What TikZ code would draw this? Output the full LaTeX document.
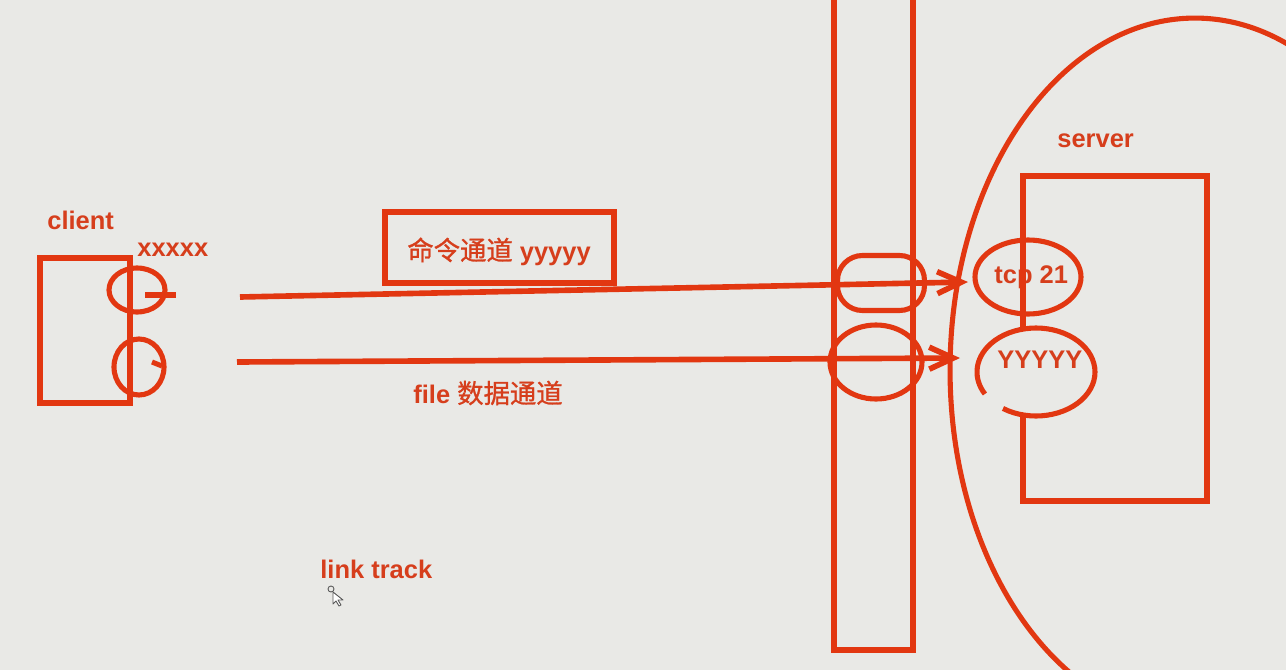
\documentclass[tikz,border=0pt]{standalone}
\usepackage{fontspec}
\setmainfont{Liberation Sans}
\newfontfamily\cjk[FakeBold=1]{Noto Sans CJK SC}
\usetikzlibrary{arrows.meta,shapes.geometric}
\definecolor{bg}{RGB}{233,233,230}
\definecolor{ink}{RGB}{226,55,17}
\definecolor{txt}{RGB}{214,62,28}
\def\pxl{0.02cm}
\begin{document}
\begin{tikzpicture}[x=0.02cm,y=-0.02cm,
  ln/.style={draw=ink,line width=2.9pt},
  box/.style={draw=ink,line width=2.9pt,rectangle,inner sep=0pt},
  oval/.style={draw=ink,line width=2.9pt,ellipse,inner sep=0pt},
  lbl/.style={text=txt,font=\fontsize{14.5}{17}\selectfont\bfseries,inner sep=0pt,anchor=base west},
  arr/.style={draw=ink,line width=3.2pt,-{Straight Barb[length=0.48cm,width=0.44cm]}}]
\path[fill=bg] (0,0) rectangle (1286,670);
\useasboundingbox (0,0) rectangle (1286,670);

% server zone
\coordinate (bigc) at (1195,370);
\draw[ln] (bigc) ellipse [x radius=4.9cm, y radius=7.04cm];

% firewall bar
\node[box,minimum width=79*\pxl,minimum height=680*\pxl] (fw) at (873.5,310) {};
\node[box,rounded corners=0.5cm,minimum width=87*\pxl,minimum height=55*\pxl] (fwa) at (881,283) {};
\node[oval,minimum width=92*\pxl,minimum height=74*\pxl] (fwb) at (876,362) {};

% server
\node[lbl] (srvt) at (1057,147) {server};
\node[lbl] (tcpt) at (994,283) {tcp 21};
\node[box,minimum width=184*\pxl,minimum height=325*\pxl] (srv) at (1115,338.5) {};
\node[oval,minimum width=106*\pxl,minimum height=74*\pxl] (tcp) at (1028,277) {};
\node[ellipse,fill=bg,inner sep=0pt,minimum width=118*\pxl,minimum height=88*\pxl] (yy) at (1036,372) {};
\draw[ln] ([shift={(236:1.18cm and 0.88cm)}]yy.center) arc[start angle=236,end angle=570,x radius=1.18cm,y radius=0.88cm];
\node[lbl] (yyt) at (997,368) {YYYYY};

% client
\node[lbl] (clt) at (47,229) {client};
\node[lbl] (xst) at (137,256) {xxxxx};
\node[box,line width=3.3pt,minimum width=90*\pxl,minimum height=145*\pxl] (cl) at (85,330.5) {};
\node[oval,minimum width=56*\pxl,minimum height=44*\pxl] (cq) at (137,290) {};
\coordinate (cqa) at (145,295);
\coordinate (cqb) at (176,295);
\draw[ln] (cqa) -- (cqb);
\node[oval,minimum width=50*\pxl,minimum height=56*\pxl] (co) at (139,367) {};
\coordinate (coa) at (152,362);
\coordinate (cob) at (162,366);
\draw[ln] (coa) -- (cob);

% command channel
\node[box,minimum width=229*\pxl,minimum height=71*\pxl] (cmd) at (499.5,247.5) {};
\node[lbl] (cmdt) at (407,260) {{\fontsize{15}{18}\selectfont\cjk\mdseries 命令通道} yyyyy};
\node[lbl] (filet) at (413,403) {file {\fontsize{15}{18}\selectfont\cjk\mdseries 数据通道}};

% connectors
\coordinate (s1) at (240,297);
\coordinate (e1) at (968,282);
\coordinate (s2) at (237,362);
\coordinate (e2) at (960,358);
\draw[arr] (s1) -- (e1);
\draw[arr] (s2) -- (e2);

\node[lbl] (lt) at (320,578) {link track};

% mouse pointer
\draw[gray!70!black,line width=0.5pt] (331,589) circle[radius=0.06cm];
\draw[gray!70!black,fill=white,line width=0.5pt,line join=round]
  (333,592) -- (333,604) -- (336,601) -- (339,606) -- (341,605) -- (338,600) -- (343,600) -- cycle;
\end{tikzpicture}
\end{document}
